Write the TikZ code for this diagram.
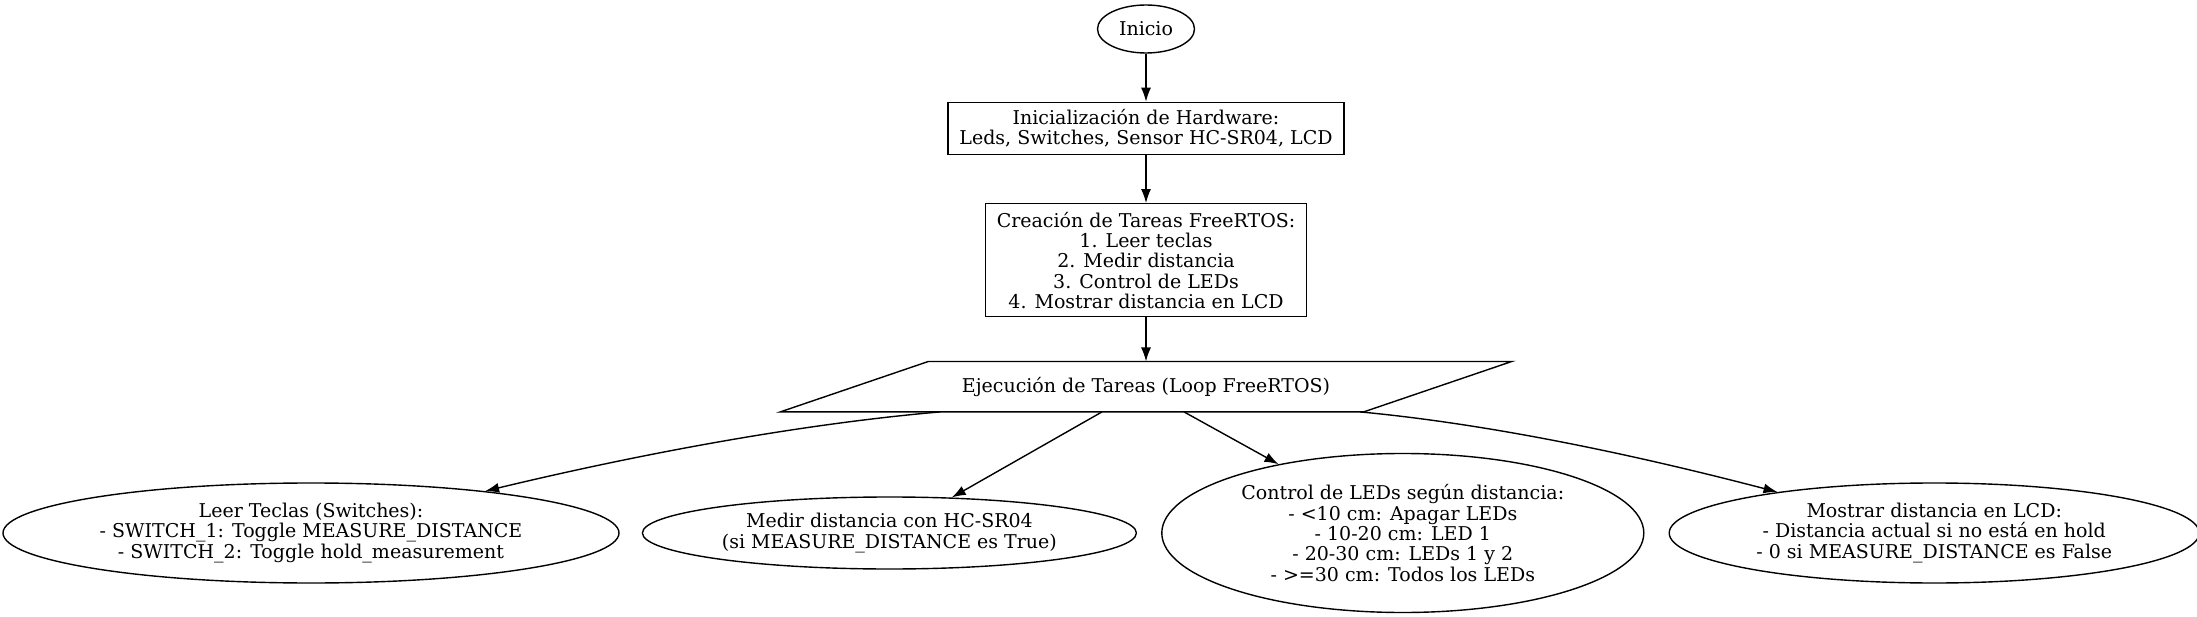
\documentclass[tikz,border=0pt]{standalone}
\usepackage{fontspec}
\setmainfont{DejaVu Serif}
\usetikzlibrary{arrows.meta,positioning,shapes.geometric}

\tikzset{
  startnode/.style={ellipse,draw,inner sep=0pt,minimum width=97pt,minimum height=48pt},
  procbox/.style={rectangle,draw,align=center,inner sep=0pt},
  tasknode/.style={ellipse,draw,align=center,inner sep=0pt},
}

\begin{document}
\begin{tikzpicture}[x=1pt,y=-1pt,>={Latex[length=14pt,width=10pt]},line width=1.4pt,
    font=\fontsize{19pt}{20.3pt}\selectfont]
    \useasboundingbox (0,0) rectangle (2197,617);

    \node[startnode] (inicio) at (1146,29) {Inicio};
    \node[procbox,minimum width=396pt,minimum height=52pt] (hw) [below=48pt of inicio]
        {Inicialización de Hardware:\\Leds, Switches, Sensor HC-SR04, LCD};
    \node[procbox,minimum width=321pt,minimum height=113pt] (crea) [below=48pt of hw]
        {Creación de Tareas FreeRTOS:\\1. Leer teclas\\2. Medir distancia\\3. Control de LEDs\\4. Mostrar distancia en LCD};
    \node[minimum width=582pt,minimum height=49pt,inner sep=0pt] (exec) [below=44pt of crea]
        {Ejecución de Tareas (Loop FreeRTOS)};
    \draw ([xshift=74pt]exec.north west) -- ([xshift=74pt]exec.north east)
        -- ([xshift=-74pt]exec.south east) -- ([xshift=-74pt]exec.south west) -- cycle;

    \node[tasknode,minimum width=616pt,minimum height=100pt] (leer) at (311,533)
        {Leer Teclas (Switches):\\- SWITCH\_1: Toggle MEASURE\_DISTANCE\\- SWITCH\_2: Toggle hold\_measurement};
    \node[tasknode,minimum width=494pt,minimum height=72pt] (medir) [right=22pt of leer]
        {Medir distancia con HC-SR04\\(si MEASURE\_DISTANCE es True)};
    \node[tasknode,minimum width=482pt,minimum height=159pt] (ctrl) [right=24pt of medir]
        {Control de LEDs según distancia:\\- <10 cm: Apagar LEDs\\- 10-20 cm: LED 1\\- 20-30 cm: LEDs 1 y 2\\- >=30 cm: Todos los LEDs};
    \node[tasknode,minimum width=530pt,minimum height=100pt] (lcd) [right=24pt of ctrl]
        {Mostrar distancia en LCD:\\- Distancia actual si no está en hold\\- 0 si MEASURE\_DISTANCE es False};

    \path[->] (inicio) edge (hw);
    \path[->] (hw) edge (crea);
    \path[->] (crea) edge (exec);
    \draw[->] ([xshift=-206pt]exec.south) .. controls (790,425) and (627,457) .. (leer);
    \draw[->] ([xshift=-44pt]exec.south) -- (medir);
    \draw[->] ([xshift=38pt]exec.south) -- (ctrl);
    \draw[->] ([xshift=214pt]exec.south) .. controls (1500,425) and (1651,459) .. (lcd);
\end{tikzpicture}
\end{document}
